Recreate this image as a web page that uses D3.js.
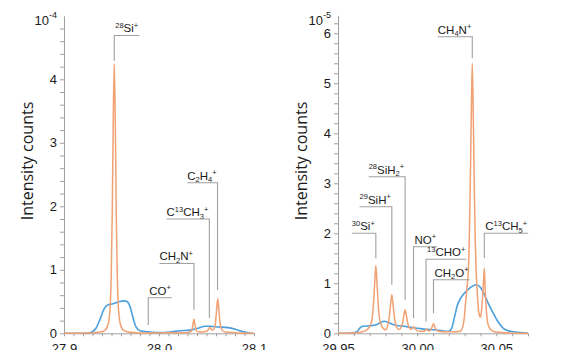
<!DOCTYPE html>
<html>
<head>
<meta charset="utf-8">
<script src="https://cdn.jsdelivr.net/npm/d3@7"></script>
<style>
  body { margin: 0; background: #fff; }
  svg { display: block; font-family: "Liberation Sans", Arial, sans-serif; }
</style>
</head>
<body>
<svg id="chart" width="561" height="350"></svg>
<script>
'use strict';

// ---- data: left panel, m/z 28 region (x1e-4) ----
// high resolution spectrum [m/z, intensity]
const mz28HighRes = [
  [27.9000, 0], [27.9250, 0.005], [27.9320, 0.01], [27.9382, 0.02], [27.9434, 0.05],
  [27.9466, 0.15], [27.9487, 0.45], [27.9497, 0.9], [27.9508, 1.9], [27.9518, 3.3],
  [27.9529, 4.25], [27.9540, 3.3], [27.9550, 1.9], [27.9561, 0.9], [27.9571, 0.45],
  [27.9592, 0.15], [27.9624, 0.05], [27.9676, 0.02], [27.9750, 0.01], [27.9900, 0.005],
  [28.0000, 0.005], [28.0200, 0.01], [28.0300, 0.01], [28.0337, 0.03], [28.0347, 0.06],
  [28.0357, 0.13], [28.0368, 0.22], [28.0379, 0.13], [28.0389, 0.06], [28.0400, 0.03],
  [28.0430, 0.02], [28.0490, 0.03], [28.0515, 0.05], [28.0527, 0.08], [28.0537, 0.09],
  [28.0547, 0.07], [28.0560, 0.05], [28.0575, 0.06], [28.0590, 0.12], [28.0600, 0.25],
  [28.0609, 0.42], [28.0618, 0.54], [28.0627, 0.42], [28.0637, 0.25], [28.0647, 0.12],
  [28.0665, 0.05], [28.0700, 0.02], [28.0800, 0.01], [28.1000, 0]
];
// low resolution spectrum
const mz28LowRes = [
  [27.9000, 0], [27.9253, 0], [27.9295, 0.02], [27.9337, 0.08], [27.9379, 0.22],
  [27.9421, 0.38], [27.9463, 0.45], [27.9505, 0.46], [27.9547, 0.48], [27.9589, 0.50],
  [27.9632, 0.51], [27.9663, 0.50], [27.9695, 0.42], [27.9726, 0.25], [27.9758, 0.10],
  [27.9800, 0.04], [27.9905, 0.02], [28.0010, 0.01], [28.0116, 0.02], [28.0221, 0.04],
  [28.0326, 0.05], [28.0410, 0.08], [28.0484, 0.11], [28.0537, 0.11], [28.0621, 0.10],
  [28.0726, 0.09], [28.0811, 0.06], [28.0874, 0.03], [28.0937, 0.01], [28.0990, 0]
];
// peak labels: text parts, m/z of marker, label level and marker tip (intensity)
const mz28Labels = [
  {parts: [['28', 'sup'], ['Si'], ['+', 'sup']], mz: 27.9529, level: 4.69, tip: 4.29, side: 'right'},
  {parts: [['CO'], ['+', 'sup']], mz: 27.9887, level: 0.56, tip: 0.13, side: 'right'},
  {parts: [['CH'], ['2', 'sub'], ['N'], ['+', 'sup']], mz: 28.0368, level: 1.10, tip: 0.37, side: 'left'},
  {parts: [['C'], ['13', 'sup'], ['CH'], ['3', 'sub'], ['+', 'sup']], mz: 28.0530, level: 1.80, tip: 0.24, side: 'left'},
  {parts: [['C'], ['2', 'sub'], ['H'], ['4', 'sub'], ['+', 'sup']], mz: 28.0616, level: 2.37, tip: 0.68, side: 'left'}
];

// ---- data: right panel, m/z 30 region (x1e-5) ----
const mz30HighRes = [
  [29.9500, 0], [29.9600, 0.005], [29.9640, 0.02], [29.9676, 0.06], [29.9701, 0.14],
  [29.9714, 0.27], [29.9720, 0.42], [29.9726, 0.68], [29.9733, 1.08], [29.9739, 1.35],
  [29.9745, 1.08], [29.9752, 0.68], [29.9758, 0.42], [29.9764, 0.27], [29.9777, 0.14],
  [29.9802, 0.07], [29.9815, 0.17], [29.9821, 0.26], [29.9827, 0.42], [29.9834, 0.63],
  [29.9840, 0.77], [29.9846, 0.63], [29.9853, 0.42], [29.9859, 0.26], [29.9865, 0.17],
  [29.9878, 0.09], [29.9890, 0.08], [29.9899, 0.12], [29.9905, 0.17], [29.9911, 0.26],
  [29.9918, 0.39], [29.9924, 0.47], [29.9930, 0.39], [29.9937, 0.26], [29.9943, 0.17],
  [29.9949, 0.12], [29.9962, 0.08], [29.9971, 0.11], [29.9977, 0.13], [29.9983, 0.11],
  [29.9996, 0.06], [30.0020, 0.04], [30.0040, 0.04], [30.0050, 0.06], [30.0057, 0.08],
  [30.0064, 0.06], [30.0080, 0.05], [30.0090, 0.09], [30.0097, 0.15], [30.0103, 0.19],
  [30.0109, 0.15], [30.0116, 0.09], [30.0128, 0.05], [30.0160, 0.03], [30.0200, 0.03],
  [30.0240, 0.03], [30.0272, 0.04], [30.0285, 0.10], [30.0297, 0.30], [30.0306, 0.62],
  [30.0316, 0.95], [30.0323, 1.25], [30.0329, 1.85], [30.0335, 2.9], [30.0342, 4.4],
  [30.0348, 5.4], [30.0354, 4.4], [30.0361, 2.9], [30.0367, 1.85], [30.0373, 1.2],
  [30.0380, 0.8], [30.0386, 0.52], [30.0392, 0.37], [30.0399, 0.32], [30.0405, 0.42],
  [30.0411, 0.62], [30.0418, 0.98], [30.0424, 1.3], [30.0430, 0.85], [30.0437, 0.45],
  [30.0446, 0.2], [30.0462, 0.08], [30.0487, 0.03], [30.0550, 0.01], [30.0700, 0]
];
const mz30LowRes = [
  [29.9500, 0], [29.9589, 0.005], [29.9620, 0.03], [29.9639, 0.11], [29.9658, 0.14],
  [29.9703, 0.15], [29.9741, 0.17], [29.9766, 0.21], [29.9791, 0.24], [29.9816, 0.22],
  [29.9842, 0.18], [29.9880, 0.15], [29.9918, 0.14], [29.9956, 0.12], [30.0006, 0.10],
  [30.0057, 0.08], [30.0108, 0.07], [30.0158, 0.05], [30.0196, 0.04], [30.0215, 0.08],
  [30.0234, 0.30], [30.0253, 0.55], [30.0278, 0.72], [30.0310, 0.84], [30.0342, 0.93],
  [30.0373, 0.97], [30.0399, 0.92], [30.0424, 0.78], [30.0449, 0.60], [30.0481, 0.40],
  [30.0513, 0.22], [30.0544, 0.10], [30.0589, 0.04], [30.0652, 0.015], [30.0700, 0]
];
const mz30Labels = [
  {parts: [['CH'], ['4', 'sub'], ['N'], ['+', 'sup']], mz: 30.0348, level: 5.93, tip: 5.50, side: 'left'},
  {parts: [['28', 'sup'], ['SiH'], ['2', 'sub'], ['+', 'sup']], mz: 29.9924, level: 3.13, tip: 0.67, side: 'left'},
  {parts: [['29', 'sup'], ['SiH'], ['+', 'sup']], mz: 29.9840, level: 2.53, tip: 0.97, side: 'left'},
  {parts: [['30', 'sup'], ['Si'], ['+', 'sup']], mz: 29.9739, level: 2.00, tip: 1.50, side: 'left'},
  {parts: [['NO'], ['+', 'sup']], mz: 29.9977, level: 1.73, tip: 0.30, side: 'right'},
  {parts: [['13', 'sup'], ['CHO'], ['+', 'sup']], mz: 30.0056, level: 1.48, tip: 0.23, side: 'right'},
  {parts: [['CH'], ['2', 'sub'], ['O'], ['+', 'sup']], mz: 30.0103, level: 1.07, tip: 0.40, side: 'right'},
  {parts: [['C'], ['13', 'sup'], ['CH'], ['5', 'sub'], ['+', 'sup']], mz: 30.0424, level: 2.00, tip: 1.50, side: 'right'}
];

const yTitle = 'Intensity counts';

// ---- drawing ----
const orange = '#f2a173';
const blue = '#4b9fdc';
const grey = '#a0a0a0';
const ink = '#1a1a1a';
const baseY = 333.3;

const svg = d3.select('#chart');

function drawPanel(cfg) {
    const x = d3.scaleLinear().domain(cfg.xDomain).range([cfg.left, cfg.right]);
    const y = d3.scaleLinear().domain(cfg.yDomain).range([baseY, cfg.top]);
    const g = svg.append('g');

    // y axis, minor ticks every 0.2
    const yTicks = d3.range(0, cfg.yDomain[1] - 0.1, 0.2);
    g.append('g')
        .attr('transform', 'translate(' + cfg.left + ',0)')
        .call(d3.axisLeft(y).tickValues(yTicks).tickSize(4).tickSizeOuter(0).tickPadding(3)
            .tickFormat(function(d) {
                return Math.abs(d - Math.round(d)) < 1e-6 ? Math.round(d) : '';
            }))
        .call(styleAxis);

    // x axis, minor ticks every 0.01
    const xTicks = d3.range(cfg.xDomain[0], cfg.xDomain[1] + 1e-6, 0.01);
    g.append('g')
        .attr('transform', 'translate(0,' + baseY + ')')
        .call(d3.axisBottom(x).tickValues(xTicks).tickSize(3).tickSizeOuter(0).tickPadding(7)
            .tickFormat(function(d) {
                return cfg.xLabels.some(function(v) { return Math.abs(v - d) < 1e-6; }) ?
                    d3.format(cfg.xFormat)(d) : '';
            }))
        .call(styleAxis);

    // exponent
    const exp = g.append('text')
        .attr('x', cfg.left - 7).attr('y', 25)
        .attr('text-anchor', 'end')
        .style('font-size', '13px').attr('fill', ink);
    exp.append('tspan').text('10');
    exp.append('tspan').attr('dy', -7).style('font-size', '9px').text(cfg.exponent);

    // y title
    g.append('text')
        .attr('transform', 'translate(' + cfg.titleX + ',161) rotate(-90)')
        .attr('text-anchor', 'middle')
        .style('font-family', '"Open Sans", sans-serif')
        .style('font-size', '16px')
        .attr('fill', ink)
        .text(yTitle);

    const line = d3.line()
        .x(function(d) { return x(d[0]); })
        .y(function(d) { return y(d[1]); })
        .curve(d3.curveMonotoneX);

    g.append('path').datum(cfg.lowRes)
        .attr('d', line).attr('fill', 'none')
        .attr('stroke', blue).attr('stroke-width', 1.6);
    g.append('path').datum(cfg.highRes)
        .attr('d', line).attr('fill', 'none')
        .attr('stroke', orange).attr('stroke-width', 1.5)
        .attr('stroke-linejoin', 'round');

    // peak labels
    cfg.labels.forEach(function(lab) {
        const xv = x(lab.mz);
        const yl = y(lab.level);
        const yt = y(lab.tip);
        const t = g.append('text')
            .attr('y', yl - 3)
            .attr('fill', ink)
            .style('font-size', '11.5px');
        let shift = 0;
        lab.parts.forEach(function(p) {
            const target = p[1] === 'sup' ? -4.5 : (p[1] === 'sub' ? 2.5 : 0);
            t.append('tspan')
                .attr('dy', target - shift)
                .style('font-size', p[1] ? '7.5px' : '11.5px')
                .text(p[0]);
            shift = target;
        });
        const w = t.node().getComputedTextLength();
        let path;
        if (lab.side === 'left') {
            t.attr('x', xv - w - 1);
            path = 'M' + (xv - w - 1) + ',' + yl + 'H' + xv + 'V' + yt;
        } else {
            t.attr('x', xv + 1);
            path = 'M' + xv + ',' + yt + 'V' + yl + 'H' + (xv + w + 2);
        }
        g.append('path').attr('d', path)
            .attr('fill', 'none').attr('stroke', grey).attr('stroke-width', 1.1);
    });
}

function styleAxis(sel) {
    sel.select('.domain').attr('stroke', grey);
    sel.selectAll('.tick line').attr('stroke', grey);
    sel.selectAll('.tick text')
        .attr('fill', ink)
        .style('font-family', '"Liberation Sans", Arial, sans-serif')
        .style('font-size', '13px');
}

drawPanel({
    xDomain: [27.9, 28.1], left: 64, right: 254,
    yDomain: [0, 5], top: 15.8,
    xLabels: [27.9, 28.0, 28.1], xFormat: '.1f',
    exponent: '-4', titleX: 33,
    highRes: mz28HighRes, lowRes: mz28LowRes, labels: mz28Labels
});

drawPanel({
    xDomain: [29.95, 30.07], left: 338, right: 528,
    yDomain: [0, 6.36], top: 15.3,
    xLabels: [29.95, 30.00, 30.05], xFormat: '.2f',
    exponent: '-5', titleX: 307,
    highRes: mz30HighRes, lowRes: mz30LowRes, labels: mz30Labels
});
</script>
</body>
</html>
